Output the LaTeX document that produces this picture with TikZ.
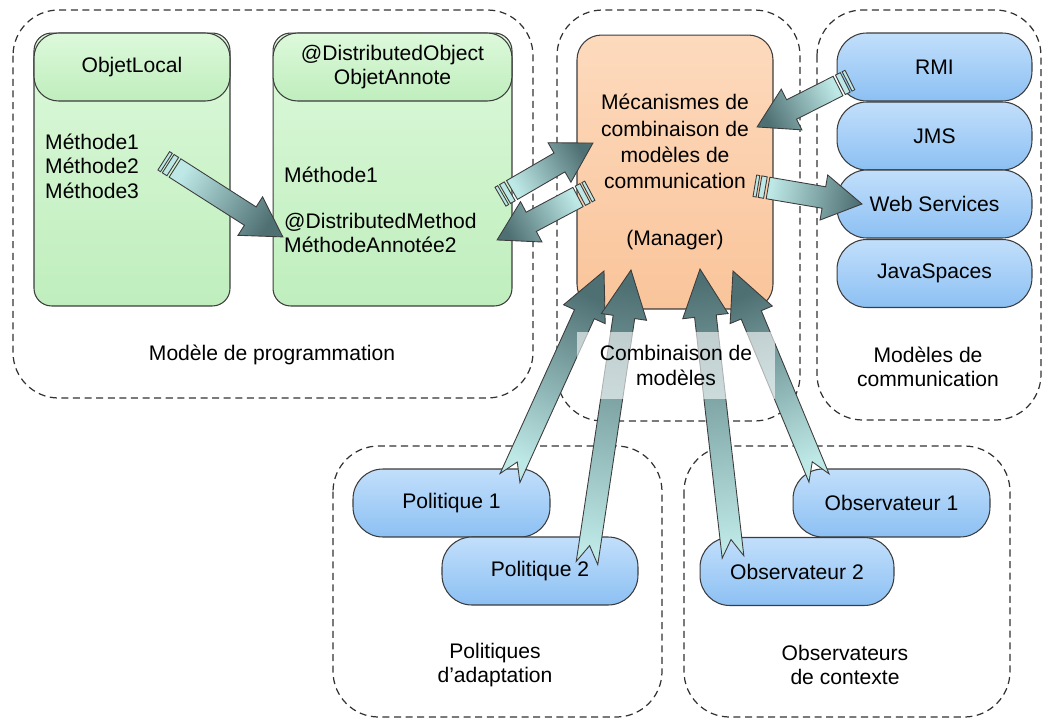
\documentclass[tikz,border=0pt]{standalone}
\usepackage{fontspec}
\setmainfont{Liberation Sans}
\usepackage{tikz}
\usetikzlibrary{calc}
\definecolor{zoneLine}{HTML}{333333}
\definecolor{edgeGray}{HTML}{3C3C3C}
\definecolor{greenTop}{HTML}{DDF9DB}
\definecolor{greenBot}{HTML}{BFEEBD}
\definecolor{blueTop}{HTML}{C2DFFB}
\definecolor{blueBot}{HTML}{8CC0F3}
\definecolor{peachTop}{HTML}{FDDABD}
\definecolor{peachBot}{HTML}{F9C49A}
\definecolor{flowLight}{HTML}{BDE8E6}
\definecolor{flowDark}{HTML}{4F7073}

% angle and length from one named point to another
\newcommand{\getflow}[2]{%
  \pgfpointdiff{\pgfpointanchor{#1}{center}}{\pgfpointanchor{#2}{center}}%
  \pgfgetlastxy{\flowdx}{\flowdy}%
  \pgfmathsetmacro{\flowang}{atan2(\flowdy,\flowdx)}%
  \pgfmathsetmacro{\flowshade}{\flowang-90}%
  \pgfmathsetmacro{\flowlen}{veclen(\flowdx,\flowdy)}}

% block arrow with two rings at its tail
\newcommand{\pipearrow}[2]{%
  \getflow{#1}{#2}%
  \begin{scope}[shift={(#1)}, rotate=\flowang]
    \filldraw[pipering] (-4.6pt,-6.2pt) rectangle (-1.5pt,6.2pt);
    \filldraw[pipering] (-7.6pt,-6.2pt) rectangle (-5.8pt,6.2pt);
    \shadedraw[flowbody, shading angle=\flowshade]
      (0pt,-6.2pt) -- (\flowlen pt-22pt,-6.2pt) -- (\flowlen pt-22pt,-13pt)
      -- (\flowlen pt,0pt) -- (\flowlen pt-22pt,13pt) -- (\flowlen pt-22pt,6.2pt)
      -- (0pt,6.2pt) -- cycle;
  \end{scope}}

% block arrow with a notched tail
\newcommand{\notcharrow}[2]{%
  \getflow{#1}{#2}%
  \begin{scope}[shift={(#1)}, rotate=\flowang]
    \shadedraw[flowbody, shading angle=\flowshade]
      (0pt,-6.2pt) -- (\flowlen pt-27pt,-6.2pt) -- (\flowlen pt-27pt,-13pt)
      -- (\flowlen pt,0pt) -- (\flowlen pt-27pt,13pt) -- (\flowlen pt-27pt,6.2pt)
      -- (0pt,6.2pt) -- (10pt,0pt) -- cycle;
  \end{scope}}

\begin{document}
\begin{tikzpicture}[x=0.02cm, y=-0.02cm,
  font=\fontsize{12}{14}\selectfont,
  zone/.style={draw=zoneLine, line width=0.7pt, dash pattern=on 4pt off 2.6pt, rounded corners=26pt},
  objhead/.style={draw=edgeGray, line width=0.6pt, top color=greenTop, bottom color=greenBot, rounded corners=14pt, minimum height=1.36cm, align=center},
  objbody/.style={draw=edgeGray, line width=0.6pt, top color=greenTop, bottom color=greenBot, rounded corners=10pt, minimum height=5.46cm},
  mgrbox/.style={draw=edgeGray, line width=0.6pt, top color=peachTop, bottom color=peachBot, rounded corners=14pt, minimum width=3.92cm, minimum height=5.48cm, align=center, font=\fontsize{12}{15}\selectfont},
  pill/.style={draw=edgeGray, line width=0.6pt, top color=blueTop, bottom color=blueBot, rounded corners=17pt, minimum height=1.36cm},
  caption/.style={align=center},
  pipering/.style={fill=flowLight, draw=edgeGray, line width=0.5pt},
  flowbody/.style={draw=edgeGray, line width=0.5pt, top color=flowDark, bottom color=flowLight}
]
\useasboundingbox (0,0) rectangle (1048,720);

% dashed zones
\draw[zone] (13,10) rectangle (533,398);
\draw[zone] (557,10) rectangle (800,421);
\draw[zone] (817,10) rectangle (1041,420);
\draw[zone] (333,446) rectangle (662,717);
\draw[zone] (684,446) rectangle (1010,717);

% programming model
\node[objbody, minimum width=3.92cm] (localbody) at (132,169.5) {};
\node[objhead, minimum width=3.92cm] (localhead) at (132,67) {ObjetLocal};
\node[align=left, anchor=west] (localmeth) at (39,166) {Méthode1\\Méthode2\\Méthode3};
\node[objbody, minimum width=4.78cm] (annotbody) at (392.5,169.5) {};
\node[objhead, minimum width=4.78cm] (annothead) at (392.5,67) {@DistributedObject\\ObjetAnnote};
\node[align=left, anchor=west] (annotmeth) at (278,210) {Méthode1\\[12pt]@DistributedMethod\\MéthodeAnnotée2};
\node[caption] (progcap) at (272,355) {Modèle de programmation};

% manager
\node[mgrbox] (manager) at (675,172) {Mécanismes de\\combinaison de\\modèles de\\communication\\[17pt](Manager)};

% communication models
\node[pill, minimum width=3.9cm] (rmi) at (934.5,67) {RMI};
\node[pill, minimum width=3.9cm] (jms) at (934.5,136) {JMS};
\node[pill, minimum width=3.9cm] (ws) at (934.5,204) {Web Services};
\node[pill, minimum width=3.9cm] (jspaces) at (934.5,273.5) {JavaSpaces};
\node[caption] (commcap) at (928,367) {Modèles de\\communication};

% policies and observers
\node[pill, minimum width=3.94cm] (pol1) at (451.5,503) {Politique 1};
\node[pill, minimum width=3.92cm] (pol2) at (540,571) {Politique 2};
\node[caption] (polcap) at (495,665) {Politiques\\d'adaptation};
\node[pill, minimum width=3.94cm] (obs1) at (891.5,503) {Observateur 1};
\node[pill, minimum width=3.88cm] (obs2) at (797,571.5) {Observateur 2};
\node[caption] (obscap) at (845,665) {Observateurs\\de contexte};

% arrow ends
\coordinate (methout) at (175,168);
\coordinate (annotin) at (283,237);
\coordinate (annotout) at (512,190);
\coordinate (mgrin) at (593,143);
\coordinate (mgrout) at (578,197);
\coordinate (annotback) at (497,240);
\coordinate (rmiout) at (838,86);
\coordinate (mgrrmi) at (757,127);
\coordinate (mgrws) at (768,188);
\coordinate (wsin) at (862,204);
\coordinate (pol1out) at (510,478);
\coordinate (mgrpol1) at (604,271);
\coordinate (pol2out) at (587,563);
\coordinate (mgrpol2) at (631,270);
\coordinate (obs2out) at (733,557);
\coordinate (mgrobs2) at (700,269);
\coordinate (obs1out) at (819,478);
\coordinate (mgrobs1) at (733,271);

\pipearrow{methout}{annotin}
\pipearrow{annotout}{mgrin}
\pipearrow{mgrout}{annotback}
\pipearrow{rmiout}{mgrrmi}
\pipearrow{mgrws}{wsin}
\notcharrow{pol1out}{mgrpol1}
\notcharrow{pol2out}{mgrpol2}
\notcharrow{obs2out}{mgrobs2}
\notcharrow{obs1out}{mgrobs1}

\node[caption, fill=white, fill opacity=0.6, text opacity=1, minimum width=3.96cm, minimum height=1.34cm] (combcap) at (676,365.5) {Combinaison de\\modèles};
\end{tikzpicture}
\end{document}
